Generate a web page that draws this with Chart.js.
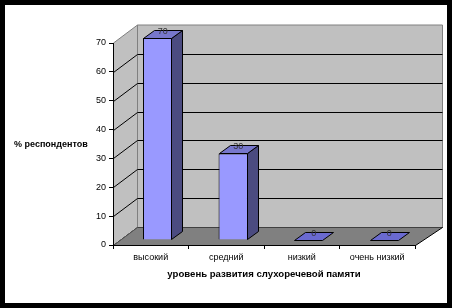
<!DOCTYPE html>
<html>
<head>
<meta charset="utf-8">
<script src="https://cdn.jsdelivr.net/npm/chart.js@4"></script>
<style>
  body { margin: 0; background: #000; }
  #frame { position: absolute; left: 5px; top: 5px; width: 442px; height: 298px; background: #fff; }
</style>
</head>
<body>
<div id="frame"><canvas id="chart" width="442" height="298"></canvas></div>
<script>
// data
var levels = ["высокий", "средний", "низкий", "очень низкий"];
var percents = [70, 30, 0, 0];
var yTitle = "% респондентов";
var xTitle = "уровень развития слухоречевой памяти";

// 3d look
var wallLeft = 24, wallRight = 27, wallUp = 18;
var shiftX = 7, shiftY = -5;
var depthX = 11, depthY = -8;

function poly(ctx, pts, fill, stroke) {
  ctx.beginPath();
  ctx.moveTo(pts[0][0], pts[0][1]);
  for (var i = 1; i < pts.length; i++) ctx.lineTo(pts[i][0], pts[i][1]);
  ctx.closePath();
  if (fill) { ctx.fillStyle = fill; ctx.fill(); }
  if (stroke) { ctx.strokeStyle = stroke; ctx.lineWidth = 1; ctx.stroke(); }
}

var walls = {
  id: "walls",
  beforeDraw: function (chart) {
    var ctx = chart.ctx, a = chart.chartArea, y = chart.scales.y;
    var L = a.left + 0.5, R = a.right + 0.5, T = a.top, B = a.bottom + 0.5;
    ctx.save();
    // side wall + back wall
    poly(ctx, [[L, B], [L, T], [L + wallLeft, T - wallUp], [L + wallLeft, B - wallUp]], "#c0c0c0", "#808080");
    poly(ctx, [[L + wallLeft, T - wallUp], [R + wallRight, T - wallUp], [R + wallRight, B - wallUp], [L + wallLeft, B - wallUp]], "#c0c0c0", "#808080");
    // grid lines
    ctx.strokeStyle = "#000";
    y.ticks.forEach(function (t) {
      var py = Math.round(y.getPixelForValue(t.value)) + 0.5;
      if (t.value === 70) return;
      ctx.beginPath();
      ctx.moveTo(L, py);
      ctx.lineTo(L + wallLeft, py - wallUp);
      ctx.lineTo(R + wallRight, py - wallUp);
      ctx.stroke();
    });
    // floor
    poly(ctx, [[L, B], [R, B], [R + wallRight, B - wallUp], [L + wallLeft, B - wallUp]], "#808080", null);
    ctx.strokeStyle = "#000";
    ctx.beginPath();
    ctx.moveTo(R, B);
    ctx.lineTo(R + wallRight, B - wallUp);
    ctx.stroke();
    ctx.strokeStyle = "#555";
    ctx.beginPath();
    ctx.moveTo(L, B);
    ctx.lineTo(L + wallLeft, B - wallUp);
    ctx.stroke();
    // y title
    ctx.fillStyle = "#000";
    ctx.font = "bold 9px 'Liberation Sans', Arial, sans-serif";
    ctx.textAlign = "left";
    ctx.textBaseline = "middle";
    ctx.fillText(yTitle, 9, 140);
    ctx.restore();
  },
  beforeDatasetsDraw: function (chart) {
    chart.ctx.save();
    chart.ctx.translate(shiftX, shiftY);
  },
  afterDatasetsDraw: function (chart) {
    var ctx = chart.ctx;
    ctx.restore();
    ctx.save();
    var meta = chart.getDatasetMeta(0);
    meta.data.forEach(function (bar, i) {
      var p = bar.getProps(["x", "y", "base", "width"], true);
      var l = Math.round(p.x - p.width / 2 + shiftX) + 0.5;
      var r = Math.round(p.x + p.width / 2 + shiftX) - 0.5;
      var t = Math.round(p.y + shiftY) + 0.5;
      var b = Math.round(p.base + shiftY) - 0.5;
      if (b > t) {
        poly(ctx, [[r, t], [r + depthX, t + depthY], [r + depthX, b + depthY], [r, b]], "#4b4b80", "#000");
      }
      poly(ctx, [[l, t], [r, t], [r + depthX, t + depthY], [l + depthX, t + depthY]], b > t ? "#7777cc" : "#6a6ad0", "#000");
      ctx.fillStyle = "#333";
      ctx.font = "9px 'Liberation Sans', Arial, sans-serif";
      ctx.textAlign = "center";
      ctx.textBaseline = "middle";
      ctx.fillText(String(percents[i]), p.x + shiftX + 5, t + depthY + 1);
    });
    ctx.restore();
  }
};

Chart.defaults.font.family = "'Liberation Sans', Arial, sans-serif";
Chart.defaults.font.size = 9;
Chart.defaults.color = "#000";

new Chart(document.getElementById("chart"), {
  type: "bar",
  data: {
    labels: levels,
    datasets: [
      {
        data: percents,
        backgroundColor: "#9999ff",
        borderColor: "#000",
        borderWidth: 1,
        barPercentage: 0.39,
        categoryPercentage: 1,
      },
    ],
  },
  options: {
    responsive: false,
    animation: false,
    layout: { padding: { left: 0, right: 32, top: 38, bottom: 0 } },
    plugins: { legend: { display: false }, tooltip: { enabled: false } },
    scales: {
      x: {
        grid: { drawOnChartArea: false, offset: true, tickLength: 4, color: "#000" },
        border: { color: "#000" },
        ticks: { padding: 3, color: "#000" },
        title: {
          display: true,
          text: xTitle,
          font: { weight: "bold", size: 9.6 },
          padding: { top: 4, bottom: 23 },
        },
        afterFit: function (axis) {
          axis.height = 58;
        },
      },
      y: {
        min: 0,
        max: 70,
        ticks: { stepSize: 10, padding: 3, color: "#000" },
        grid: { drawOnChartArea: false, tickLength: 4, color: "#000" },
        border: { color: "#000" },
        afterFit: function (axis) {
          axis.width = 108;
        },
      },
    },
  },
  plugins: [walls],
});
</script>
</body>
</html>
